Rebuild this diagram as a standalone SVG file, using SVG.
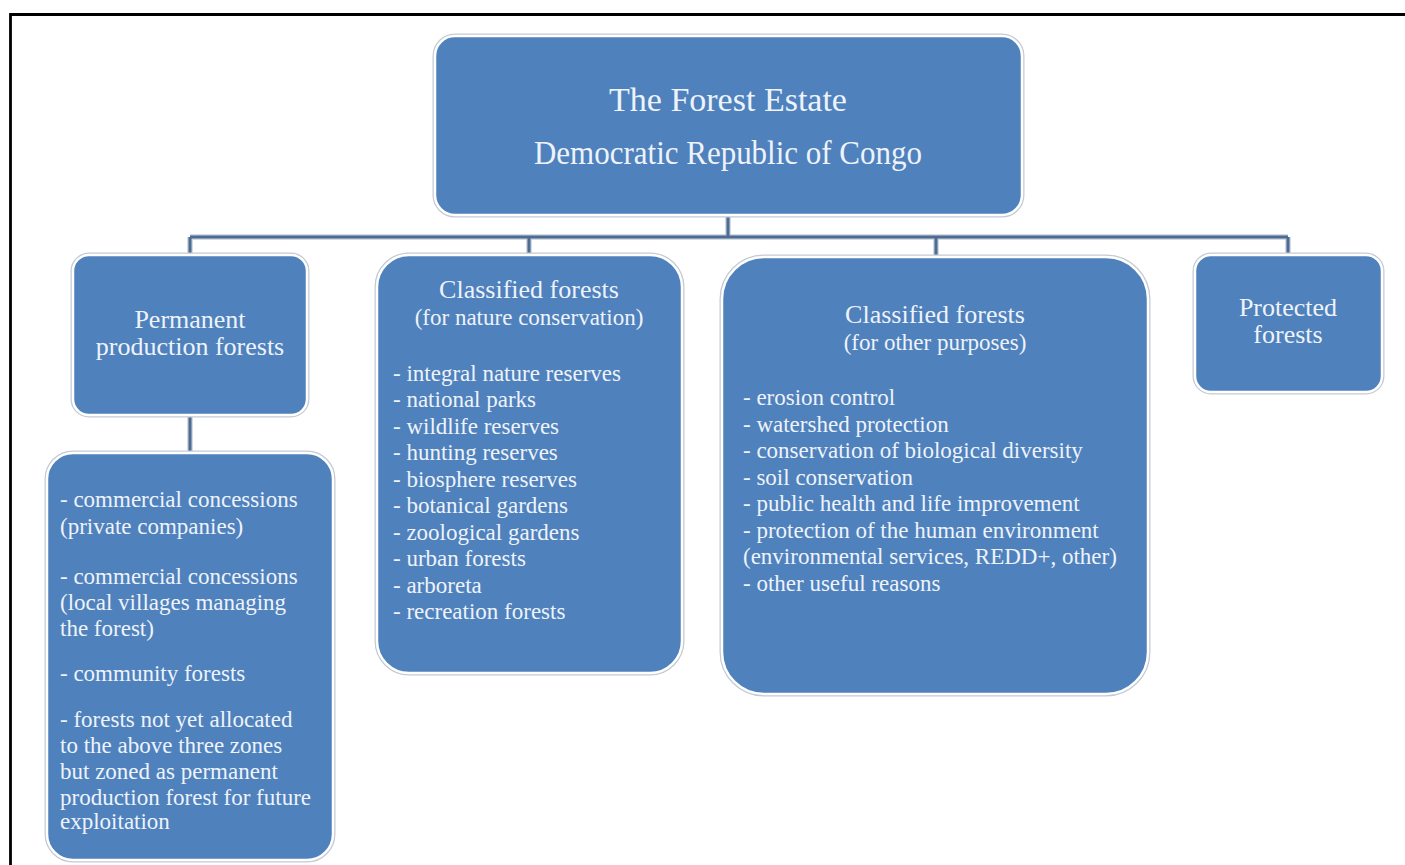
<svg xmlns="http://www.w3.org/2000/svg" width="1405" height="865" viewBox="0 0 1405 865">
<style>
.box{fill:#4F81BD;stroke:#FFFFFF;stroke-width:2.5}
.halo{fill:none;stroke:#C3CAD4;stroke-width:5}
text{font-family:"Liberation Serif","Times New Roman",serif;fill:#EEF3FA}
.c{text-anchor:middle}
.t{font-size:34px}
.h{font-size:26px}
.s{font-size:23px}
.i{font-size:23px}
.con{fill:none;stroke:#4C6C96;stroke-width:3}
.conh{fill:none;stroke:#C9CFD8;stroke-width:5.5}
</style>
<rect width="1405" height="865" fill="#FFFFFF"/>
<path d="M10.5 865 V14.5 H1405" fill="none" stroke="#000000" stroke-width="2.8"/>
<g id="connectors">
<path class="conh" d="M728 215 V237 M190 237 H1288 M190 237 V255 M529 237 V255 M936 237 V257 M1288 237 V255 M190 415 V453"/>
<path class="con" d="M728 215 V237 M190 237 H1288 M190 237 V255 M529 237 V255 M936 237 V257 M1288 237 V255 M190 415 V453"/>
</g>
<g id="root">
<rect class="halo" x="435" y="36" width="587" height="179" rx="20"/>
<rect class="box" x="435" y="36" width="587" height="179" rx="20"/>
<text class="t c" x="728" y="111">The Forest Estate</text>
<text class="t c" x="728" y="164" textLength="388" lengthAdjust="spacingAndGlyphs">Democratic Republic of Congo</text>
</g>
<g id="permanent">
<rect class="halo" x="73" y="255" width="234" height="160" rx="16"/>
<rect class="box" x="73" y="255" width="234" height="160" rx="16"/>
<text class="h c" x="190" y="328">Permanent</text>
<text class="h c" x="190" y="355">production forests</text>
</g>
<g id="permanent-list">
<rect class="halo" x="47" y="453" width="286" height="407" rx="26"/>
<rect class="box" x="47" y="453" width="286" height="407" rx="26"/>
<text class="i" x="60" y="507">- commercial concessions</text>
<text class="i" x="60" y="534">(private companies)</text>
<text class="i" x="60" y="584">- commercial concessions</text>
<text class="i" x="60" y="610">(local villages managing</text>
<text class="i" x="60" y="636">the forest)</text>
<text class="i" x="60" y="681">- community  forests</text>
<text class="i" x="60" y="727">- forests not yet allocated</text>
<text class="i" x="60" y="753">to the above three zones</text>
<text class="i" x="60" y="779">but zoned as permanent</text>
<text class="i" x="60" y="805">production forest for future</text>
<text class="i" x="60" y="829">exploitation</text>
</g>
<g id="nature">
<rect class="halo" x="377" y="255" width="305" height="418" rx="32"/>
<rect class="box" x="377" y="255" width="305" height="418" rx="32"/>
<text class="h c" x="529" y="298">Classified  forests</text>
<text class="s c" x="529" y="325">(for nature  conservation)</text>
<text class="i" x="393" y="381">- integral nature reserves</text>
<text class="i" x="393" y="407">- national parks</text>
<text class="i" x="393" y="434">- wildlife reserves</text>
<text class="i" x="393" y="460">- hunting  reserves</text>
<text class="i" x="393" y="487">- biosphere reserves</text>
<text class="i" x="393" y="513">- botanical gardens</text>
<text class="i" x="393" y="540">- zoological gardens</text>
<text class="i" x="393" y="566">- urban forests</text>
<text class="i" x="393" y="593">- arboreta</text>
<text class="i" x="393" y="619">- recreation forests</text>
</g>
<g id="other">
<rect class="halo" x="722" y="257" width="426" height="437" rx="42"/>
<rect class="box" x="722" y="257" width="426" height="437" rx="42"/>
<text class="h c" x="935" y="323">Classified  forests</text>
<text class="s c" x="935" y="350">(for other purposes)</text>
<text class="i" x="743" y="405">- erosion control</text>
<text class="i" x="743" y="432">- watershed protection</text>
<text class="i" x="743" y="458">- conservation of biological diversity</text>
<text class="i" x="743" y="485">- soil conservation</text>
<text class="i" x="743" y="511">- public health and life improvement</text>
<text class="i" x="743" y="538">- protection of the human  environment</text>
<text class="i" x="743" y="564">(environmental  services, REDD+, other)</text>
<text class="i" x="743" y="591">- other useful  reasons</text>
</g>
<g id="protected">
<rect class="halo" x="1195" y="255" width="187" height="137" rx="16"/>
<rect class="box" x="1195" y="255" width="187" height="137" rx="16"/>
<text class="h c" x="1288" y="316">Protected</text>
<text class="h c" x="1288" y="343">forests</text>
</g>
</svg>
